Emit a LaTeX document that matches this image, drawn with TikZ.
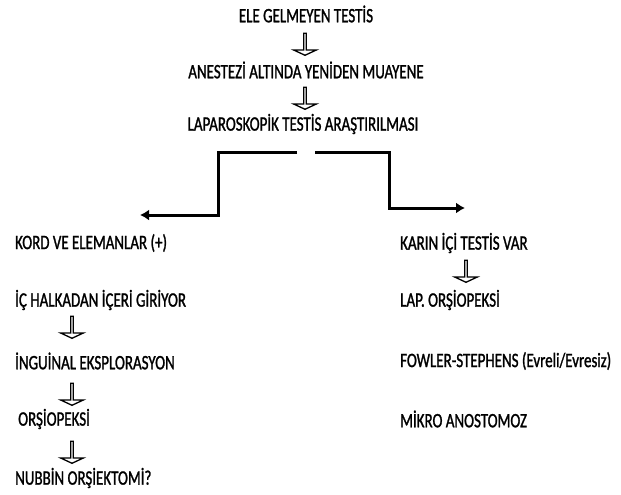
\documentclass[tikz,border=0pt]{standalone}
\usepackage{fontspec}
\setmainfont{Carlito}[FakeStretch=0.73, FakeBold=1.2]
\usepackage{tikz}
\usetikzlibrary{positioning,shapes.arrows,arrows.meta}

\begin{document}
\begin{tikzpicture}[
    x=1pt, y=-1pt,
    txt/.style={inner sep=0pt, font=\fontsize{20.5}{23}\selectfont, text=black},
    item/.style={txt, anchor=west},
    down/.style={single arrow, draw=black, line width=1.3pt, shape border rotate=270,
        minimum height=22pt, minimum width=23pt, single arrow head extend=5.5pt,
        single arrow tip angle=130, inner sep=0pt, fill=white},
    branch/.style={line width=3pt, -{Latex[length=9pt,width=11pt]}}
]
\useasboundingbox (0,0) rectangle (621,495);

% top chain
\node [txt] (Ele) at (306,14) {ELE GELMEYEN TESTİS};
\node [down] (a1) at (305,44) {};
\node [txt] (Anes) at (306,70) {ANESTEZİ ALTINDA YENİDEN MUAYENE};
\node [down] (a2) at (305,98) {};
\node [txt] (Lap) at (303,124) {LAPAROSKOPİK TESTİS ARAŞTIRILMASI};

% left branch
\node [item] (Kord) at (15,243) {KORD VE ELEMANLAR (+)};
\node [item] (Ic) at (15,300) {İÇ HALKADAN İÇERİ GİRİYOR};
\node [down] (a3) at (72,327) {};
\node [item] (Ing) at (15,361) {İNGUİNAL EKSPLORASYON};
\node [down] (a4) at (72,394) {};
\node [item] (Ors) at (18,419) {ORŞİOPEKSİ};
\node [down] (a5) at (72,452) {};
\node [item] (Nub) at (15,478) {NUBBİN ORŞİEKTOMİ?};

% right branch
\node [item] (Karin) at (400,243) {KARIN İÇİ TESTİS VAR};
\node [down] (a6) at (466,271) {};
\node [item] (LapOrs) at (400,300) {LAP. ORŞİOPEKSİ};
\node [item] (Fowler) at (400,361) {FOWLER-STEPHENS (Evreli/Evresiz)};
\node [item] (Mikro) at (400,419) {MİKRO ANOSTOMOZ};

\coordinate (lstart) at (297,152);
\coordinate (lend) at (140,215);
\coordinate (rstart) at (315,152);
\coordinate (rend) at (465,208);

\draw [branch] (lstart) -| (218,215) -- (lend);
\draw [branch] (rstart) -| (389,208) -- (rend);

\end{tikzpicture}
\end{document}
